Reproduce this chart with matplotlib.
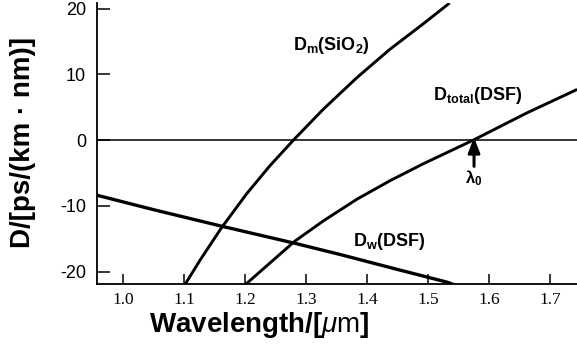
import matplotlib
matplotlib.use("Agg")
import matplotlib.pyplot as plt

# ---- data ----
lam_dm = [1.101, 1.126, 1.161, 1.202, 1.240, 1.279, 1.328, 1.383, 1.437, 1.492, 1.535]
d_dm = [-22.0, -18.25, -13.35, -8.2, -3.95, 0.0, 4.7, 9.5, 13.8, 17.7, 20.85]

lam_dw = [0.957, 1.05, 1.161, 1.281, 1.355, 1.45, 1.53, 1.545]
d_dw = [-8.4, -10.6, -13.1, -15.7, -17.4, -19.7, -21.6, -22.1]

lam_dt = [1.200, 1.281, 1.328, 1.383, 1.437, 1.492, 1.574, 1.661, 1.744]
d_dt = [-22.0, -15.4, -12.3, -9.0, -6.2, -3.6, 0.0, 4.1, 7.7]

lambda0 = 1.575
xticks = [1.0, 1.1, 1.2, 1.3, 1.4, 1.5, 1.6, 1.7]
xticklabels = ["1.0", "1.1", "1.2", "1.3", "1.4", "1.5", "1.6", "1.7"]
yticks = [-20, -10, 0, 10, 20]
yticklabels = ["-20", "-10", "0", "10", "20"]

plt.rcParams["axes.unicode_minus"] = False
plt.rcParams["mathtext.fontset"] = "custom"
plt.rcParams["mathtext.bf"] = "Liberation Sans:bold"
plt.rcParams["mathtext.rm"] = "Liberation Sans"
plt.rcParams["mathtext.it"] = "Liberation Sans:italic"
plt.rcParams["font.family"] = ["Liberation Sans", "DejaVu Sans"]

W, H = 577, 344
fig = plt.figure(figsize=(W / 100, H / 100), dpi=100)
ax = fig.add_axes([97 / W, (H - 284) / H, (W - 97) / W, (284 - 3) / H])

ax.set_xlim(0.9569, 1.7438)
ax.set_ylim(-21.9, 20.85)

lw = 2.1
ax.plot(lam_dm, d_dm, color="black", lw=lw, solid_capstyle="butt")
ax.plot(lam_dw, d_dw, color="black", lw=lw + 0.3, solid_capstyle="butt")
ax.plot(lam_dt, d_dt, color="black", lw=lw, solid_capstyle="butt")
ax.axhline(0, color="black", lw=1.1)

for s in ["top", "right"]:
    ax.spines[s].set_visible(False)
for s in ["left", "bottom"]:
    ax.spines[s].set_linewidth(1.3)

ax.set_xticks(xticks)
ax.set_xticklabels(xticklabels, fontfamily="Liberation Serif", fontsize=12.5)
ax.set_yticks(yticks)
ax.set_yticklabels(yticklabels, fontfamily="Liberation Sans", fontsize=13)
ax.tick_params(axis="x", direction="in", length=7, width=1.1, pad=6)
ax.tick_params(axis="y", direction="in", length=9, width=1.1, pad=8)

# curve labels
ax.text(1.278, 14.4, r"$\mathbf{D_m(SiO_2)}$", fontsize=13, ha="left", va="center")
ax.text(1.508, 6.8, r"$\mathbf{D_{total}(DSF)}$", fontsize=13, ha="left", va="center")
ax.text(1.377, -15.5, r"$\mathbf{D_w(DSF)}$", fontsize=13, ha="left", va="center")
ax.text(lambda0, -5.8, r"$\mathbf{\lambda_0}$", fontsize=12, ha="center", va="center")
ax.annotate("", xy=(lambda0, 0.4), xytext=(lambda0, -4.0),
            arrowprops=dict(arrowstyle="-|>,head_length=0.9,head_width=0.35",
                            color="black", lw=2.2, shrinkA=0, shrinkB=0))

fig.text(23 / W, 1 - 142 / H, "D/[ps/(km · nm)]", rotation=90, ha="center",
         va="center", fontsize=20, fontweight="bold")
fig.text(259 / W, 1 - 325 / H, r"Wavelength/[$\mu\mathrm{m}$]", ha="center",
         va="center", fontsize=20, fontweight="bold")

fig.savefig("out.png", dpi=100)
